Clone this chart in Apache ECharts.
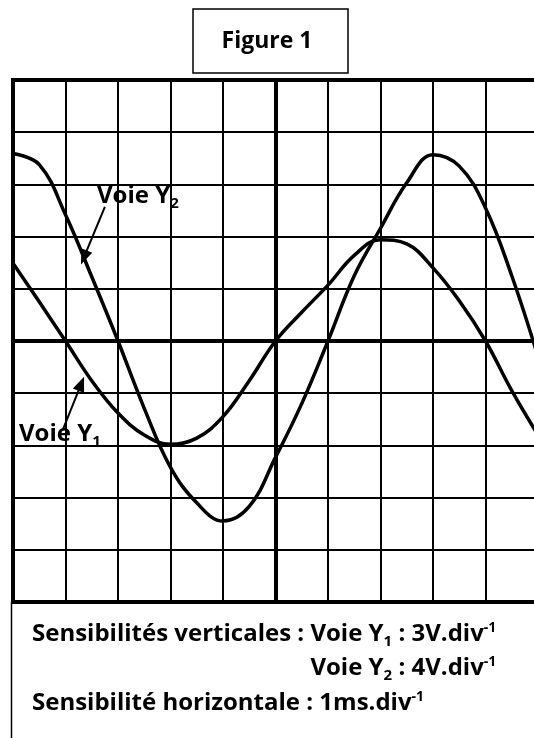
<!DOCTYPE html>
<html>
<head>
<meta charset="UTF-8">
<title>Figure 1</title>
<script src="https://cdn.jsdelivr.net/npm/echarts@6/dist/echarts.min.js"></script>
<style>
    html, body { margin: 0; padding: 0; overflow: hidden; background: #fff; }
    #chart { width: 560px; height: 738px; }
</style>
</head>
<body>
<div id="chart"></div>
<script>
// abscisses en divisions (1 ms/div), tensions en divisions
var xDiv = [0, 0.5, 1, 1.5, 2, 2.5, 3, 3.5, 4, 4.5, 5, 5.5, 6, 6.5, 7, 7.5, 8, 8.5, 9, 9.5, 10];
var valY1 = [1.49, 0.75, 0, -0.76, -1.38, -1.80, -1.98, -1.86, -1.45, -0.76, 0, 0.55, 1.07, 1.64, 1.94, 1.86, 1.4, 0.77, 0, -0.95, -1.8];
var valY2 = [3.59, 3.38, 2.42, 1.23, 0, -1.29, -2.42, -3.1, -3.45, -3.17, -2.23, -1.2, 0, 1.25, 2.16, 3.03, 3.57, 3.35, 2.55, 1.25, -0.3];
var xRange = [0, 10];
var yRange = [-5, 5];

function pairs(xs, ys) {
    return xs.map(function (x, i) { return [x, ys[i]]; });
}

var ink = '#000';
var font = '"Open Sans", Lato, sans-serif';
// styles du texte : tout calé en haut, indices/exposants décalés par padding
var base = { fontFamily: font, fontWeight: 'bold', color: ink, lineHeight: 34.5, verticalAlign: 'top' };
function st(extra) { return Object.assign({}, base, extra); }
var rich = {
    m: st({ fontSize: 24, padding: [3, 0, 0, 0] }),
    s: st({ fontSize: 15, padding: [15, 0, 0, 0] }),
    p: st({ fontSize: 14, padding: [2, 0, 0, 0] }),
    mr: st({ fontSize: 24, padding: [3, 0, 0, 0], align: 'right' }),
    sr: st({ fontSize: 15, padding: [15, 0, 0, 0], align: 'right' }),
    pr: st({ fontSize: 14, padding: [2, 0, 0, 0], align: 'right' })
};

function label(x, y, text) {
    return {
        type: 'text', x: x, y: y, z: 100,
        style: { text: text, rich: rich, fill: ink, textVerticalAlign: 'top' }
    };
}

var myChart = echarts.init(document.getElementById('chart'));
var option = {
    animation: false,
    grid: {
        left: 13, top: 80, width: 525, height: 522,
        show: true, borderColor: ink, borderWidth: 4
    },
    xAxis: {
        type: 'value', min: xRange[0], max: xRange[1], interval: 1,
        axisLine: { show: false }, axisTick: { show: false }, axisLabel: { show: false },
        splitLine: { lineStyle: { color: ink, width: 2 } }
    },
    yAxis: {
        type: 'value', min: yRange[0], max: yRange[1], interval: 1,
        axisLine: { show: false }, axisTick: { show: false }, axisLabel: { show: false },
        splitLine: { lineStyle: { color: ink, width: 2 } }
    },
    series: [
        {
            name: 'Voie Y1', type: 'line', data: pairs(xDiv, valY1),
            smooth: 0.4, showSymbol: false, lineStyle: { color: ink, width: 3.5 },
            // axes centraux épais
            markLine: {
                silent: true, symbol: 'none', label: { show: false },
                lineStyle: { color: ink, width: 4, type: 'solid' },
                data: [{ xAxis: 5 }, { yAxis: 0 }]
            }
        },
        {
            name: 'Voie Y2', type: 'line', data: pairs(xDiv, valY2),
            smooth: 0.4, showSymbol: false, lineStyle: { color: ink, width: 3.5 },
            // flèches des étiquettes
            markLine: {
                silent: true, symbol: ['none', 'triangle'], symbolSize: [12, 15], label: { show: false },
                lineStyle: { color: ink, width: 2, type: 'solid' },
                itemStyle: { color: ink },
                data: [
                    [{ coord: [1.75, 2.57] }, { coord: [1.35, 1.6] }],
                    [{ coord: [0.95, -1.70] }, { coord: [1.3, -0.82] }]
                ]
            }
        }
    ],
    graphic: [
        {
            type: 'rect', z: 100,
            shape: { x: 193, y: 9, width: 155, height: 64 },
            style: { fill: '#fff', stroke: ink, lineWidth: 1.5 }
        },
        {
            type: 'text', z: 101, x: 267, y: 41,
            style: { text: 'Figure 1', fill: ink, font: 'bold 23px ' + font, textAlign: 'center', textVerticalAlign: 'middle' }
        },
        {
            type: 'line', z: 100,
            shape: { x1: 11.5, y1: 602, x2: 11.5, y2: 738 },
            style: { stroke: ink, lineWidth: 1.5 }
        },
        label(97, 181, '{m|Voie Y}{s|2}'),
        label(19, 419, '{m|Voie Y}{s|1}'),
        label(32, 619, '{m|Sensibilités verticales : Voie Y}{s|1}{m| : 3V.div}{p|-1}\n{mr|Voie Y}{sr|2}{mr| : 4V.div}{pr|-1}\n{m|Sensibilité horizontale : 1ms.div}{p|-1}')
    ]
};
myChart.setOption(option);
</script>
</body>
</html>
